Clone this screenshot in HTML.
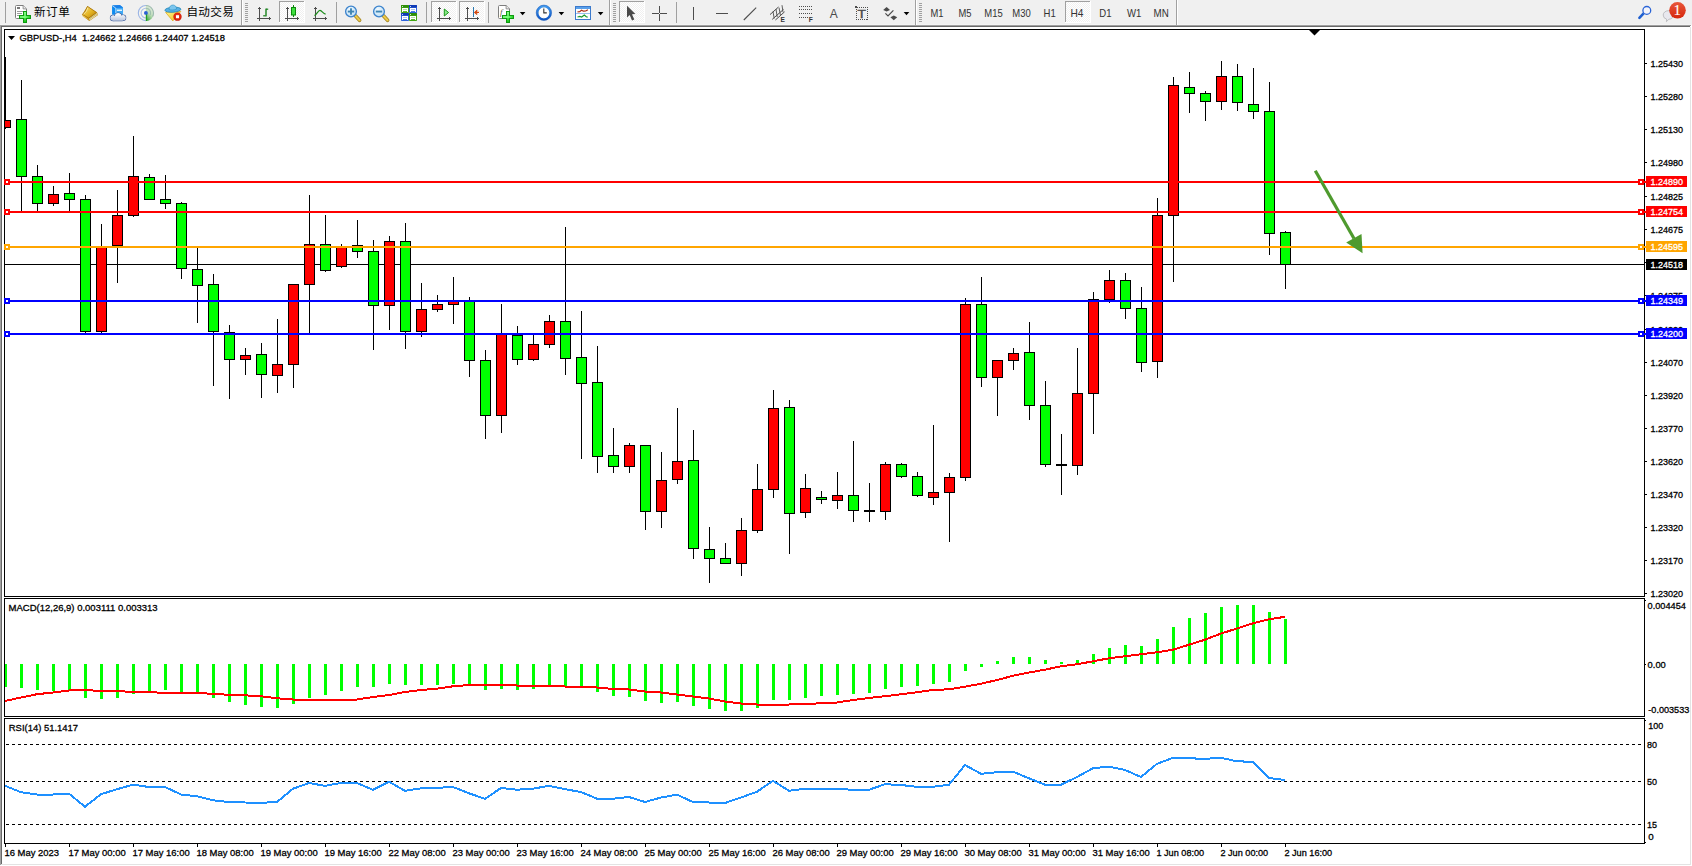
<!DOCTYPE html>
<html lang="zh-CN"><head><meta charset="utf-8"><title>GBPUSD-,H4</title>
<style>
html,body{margin:0;padding:0;background:#fff}
body{position:relative;width:1692px;height:866px;overflow:hidden;font-family:"Liberation Sans","Noto Sans CJK SC",sans-serif}
svg text{white-space:pre}
</style></head>
<body>
<svg id="chart" width="1692" height="866" viewBox="0 0 1692 866" style="position:absolute;left:0;top:0;font-family:'Liberation Sans',sans-serif;font-size:9.8px" shape-rendering="crispEdges">
<style>#chart text{stroke:#000;stroke-width:.3px}#chart text[fill="#fff"]{stroke:#fff}</style>
<defs><clipPath id="cm"><rect x="5" y="30" width="1639" height="566"/></clipPath><clipPath id="ci"><rect x="5" y="599" width="1639" height="117"/></clipPath><clipPath id="cr"><rect x="5" y="719" width="1639" height="124"/></clipPath></defs>
<rect x="0" y="27" width="1692" height="839" fill="#fff"/>
<rect x="0" y="25" width="1691" height="1" fill="#a0a0a0"/>
<rect x="0" y="26" width="1690" height="1" fill="#696969"/>
<rect x="0" y="25" width="1" height="840" fill="#a0a0a0"/>
<rect x="1" y="26" width="1" height="838" fill="#696969"/>
<rect x="1690" y="27" width="1" height="838" fill="#e3e3e3"/>
<rect x="1" y="864" width="1690" height="1" fill="#e3e3e3"/>
<g fill="none" stroke="#000" stroke-width="1">
<rect x="4.5" y="29.5" width="1640" height="567"/>
<rect x="4.5" y="598.5" width="1640" height="118"/>
<rect x="4.5" y="718.5" width="1640" height="125"/>
</g>
<g id="price" clip-path="url(#cm)">
<rect x="5" y="264" width="1639" height="1" fill="#000"/>
<g id="candles">
<rect x="5" y="57" width="1" height="72" fill="#000"/>
<rect x="0" y="120" width="11" height="8" fill="#000"/>
<rect x="1" y="121" width="9" height="6" fill="#f00"/>
<rect x="21" y="80" width="1" height="131" fill="#000"/>
<rect x="16" y="119" width="11" height="58" fill="#000"/>
<rect x="17" y="120" width="9" height="56" fill="#0f0"/>
<rect x="37" y="165" width="1" height="46" fill="#000"/>
<rect x="32" y="176" width="11" height="28" fill="#000"/>
<rect x="33" y="177" width="9" height="26" fill="#0f0"/>
<rect x="53" y="186" width="1" height="20" fill="#000"/>
<rect x="48" y="194" width="11" height="10" fill="#000"/>
<rect x="49" y="195" width="9" height="8" fill="#f00"/>
<rect x="69" y="173" width="1" height="38" fill="#000"/>
<rect x="64" y="193" width="11" height="7" fill="#000"/>
<rect x="65" y="194" width="9" height="5" fill="#0f0"/>
<rect x="85" y="195" width="1" height="138" fill="#000"/>
<rect x="80" y="199" width="11" height="133" fill="#000"/>
<rect x="81" y="200" width="9" height="131" fill="#0f0"/>
<rect x="101" y="224" width="1" height="109" fill="#000"/>
<rect x="96" y="246" width="11" height="86" fill="#000"/>
<rect x="97" y="247" width="9" height="84" fill="#f00"/>
<rect x="117" y="190" width="1" height="93" fill="#000"/>
<rect x="112" y="215" width="11" height="31" fill="#000"/>
<rect x="113" y="216" width="9" height="29" fill="#f00"/>
<rect x="133" y="136" width="1" height="81" fill="#000"/>
<rect x="128" y="176" width="11" height="40" fill="#000"/>
<rect x="129" y="177" width="9" height="38" fill="#f00"/>
<rect x="149" y="174" width="1" height="26" fill="#000"/>
<rect x="144" y="177" width="11" height="23" fill="#000"/>
<rect x="145" y="178" width="9" height="21" fill="#0f0"/>
<rect x="165" y="175" width="1" height="34" fill="#000"/>
<rect x="160" y="199" width="11" height="5" fill="#000"/>
<rect x="161" y="200" width="9" height="3" fill="#0f0"/>
<rect x="181" y="202" width="1" height="77" fill="#000"/>
<rect x="176" y="203" width="11" height="66" fill="#000"/>
<rect x="177" y="204" width="9" height="64" fill="#0f0"/>
<rect x="197" y="248" width="1" height="75" fill="#000"/>
<rect x="192" y="269" width="11" height="17" fill="#000"/>
<rect x="193" y="270" width="9" height="15" fill="#0f0"/>
<rect x="213" y="274" width="1" height="112" fill="#000"/>
<rect x="208" y="284" width="11" height="48" fill="#000"/>
<rect x="209" y="285" width="9" height="46" fill="#0f0"/>
<rect x="229" y="325" width="1" height="74" fill="#000"/>
<rect x="224" y="332" width="11" height="28" fill="#000"/>
<rect x="225" y="333" width="9" height="26" fill="#0f0"/>
<rect x="245" y="348" width="1" height="27" fill="#000"/>
<rect x="240" y="355" width="11" height="5" fill="#000"/>
<rect x="241" y="356" width="9" height="3" fill="#f00"/>
<rect x="261" y="343" width="1" height="55" fill="#000"/>
<rect x="256" y="354" width="11" height="21" fill="#000"/>
<rect x="257" y="355" width="9" height="19" fill="#0f0"/>
<rect x="277" y="319" width="1" height="74" fill="#000"/>
<rect x="272" y="364" width="11" height="12" fill="#000"/>
<rect x="273" y="365" width="9" height="10" fill="#f00"/>
<rect x="293" y="284" width="1" height="104" fill="#000"/>
<rect x="288" y="284" width="11" height="81" fill="#000"/>
<rect x="289" y="285" width="9" height="79" fill="#f00"/>
<rect x="309" y="195" width="1" height="138" fill="#000"/>
<rect x="304" y="244" width="11" height="41" fill="#000"/>
<rect x="305" y="245" width="9" height="39" fill="#f00"/>
<rect x="325" y="215" width="1" height="57" fill="#000"/>
<rect x="320" y="244" width="11" height="27" fill="#000"/>
<rect x="321" y="245" width="9" height="25" fill="#0f0"/>
<rect x="341" y="244" width="1" height="24" fill="#000"/>
<rect x="336" y="247" width="11" height="20" fill="#000"/>
<rect x="337" y="248" width="9" height="18" fill="#f00"/>
<rect x="357" y="220" width="1" height="38" fill="#000"/>
<rect x="352" y="245" width="11" height="7" fill="#000"/>
<rect x="353" y="246" width="9" height="5" fill="#0f0"/>
<rect x="373" y="240" width="1" height="110" fill="#000"/>
<rect x="368" y="251" width="11" height="55" fill="#000"/>
<rect x="369" y="252" width="9" height="53" fill="#0f0"/>
<rect x="389" y="236" width="1" height="94" fill="#000"/>
<rect x="384" y="241" width="11" height="65" fill="#000"/>
<rect x="385" y="242" width="9" height="63" fill="#f00"/>
<rect x="405" y="223" width="1" height="126" fill="#000"/>
<rect x="400" y="241" width="11" height="91" fill="#000"/>
<rect x="401" y="242" width="9" height="89" fill="#0f0"/>
<rect x="421" y="283" width="1" height="54" fill="#000"/>
<rect x="416" y="309" width="11" height="23" fill="#000"/>
<rect x="417" y="310" width="9" height="21" fill="#f00"/>
<rect x="437" y="295" width="1" height="17" fill="#000"/>
<rect x="432" y="304" width="11" height="6" fill="#000"/>
<rect x="433" y="305" width="9" height="4" fill="#f00"/>
<rect x="453" y="277" width="1" height="47" fill="#000"/>
<rect x="448" y="300" width="11" height="5" fill="#000"/>
<rect x="449" y="301" width="9" height="3" fill="#f00"/>
<rect x="469" y="297" width="1" height="80" fill="#000"/>
<rect x="464" y="300" width="11" height="61" fill="#000"/>
<rect x="465" y="301" width="9" height="59" fill="#0f0"/>
<rect x="485" y="350" width="1" height="89" fill="#000"/>
<rect x="480" y="360" width="11" height="56" fill="#000"/>
<rect x="481" y="361" width="9" height="54" fill="#0f0"/>
<rect x="501" y="304" width="1" height="129" fill="#000"/>
<rect x="496" y="334" width="11" height="82" fill="#000"/>
<rect x="497" y="335" width="9" height="80" fill="#f00"/>
<rect x="517" y="326" width="1" height="39" fill="#000"/>
<rect x="512" y="335" width="11" height="25" fill="#000"/>
<rect x="513" y="336" width="9" height="23" fill="#0f0"/>
<rect x="533" y="335" width="1" height="26" fill="#000"/>
<rect x="528" y="344" width="11" height="16" fill="#000"/>
<rect x="529" y="345" width="9" height="14" fill="#f00"/>
<rect x="549" y="315" width="1" height="33" fill="#000"/>
<rect x="544" y="321" width="11" height="24" fill="#000"/>
<rect x="545" y="322" width="9" height="22" fill="#f00"/>
<rect x="565" y="227" width="1" height="148" fill="#000"/>
<rect x="560" y="321" width="11" height="38" fill="#000"/>
<rect x="561" y="322" width="9" height="36" fill="#0f0"/>
<rect x="581" y="311" width="1" height="148" fill="#000"/>
<rect x="576" y="357" width="11" height="27" fill="#000"/>
<rect x="577" y="358" width="9" height="25" fill="#0f0"/>
<rect x="597" y="346" width="1" height="127" fill="#000"/>
<rect x="592" y="382" width="11" height="75" fill="#000"/>
<rect x="593" y="383" width="9" height="73" fill="#0f0"/>
<rect x="613" y="428" width="1" height="45" fill="#000"/>
<rect x="608" y="455" width="11" height="12" fill="#000"/>
<rect x="609" y="456" width="9" height="10" fill="#0f0"/>
<rect x="629" y="443" width="1" height="30" fill="#000"/>
<rect x="624" y="445" width="11" height="22" fill="#000"/>
<rect x="625" y="446" width="9" height="20" fill="#f00"/>
<rect x="645" y="445" width="1" height="85" fill="#000"/>
<rect x="640" y="445" width="11" height="67" fill="#000"/>
<rect x="641" y="446" width="9" height="65" fill="#0f0"/>
<rect x="661" y="452" width="1" height="76" fill="#000"/>
<rect x="656" y="480" width="11" height="32" fill="#000"/>
<rect x="657" y="481" width="9" height="30" fill="#f00"/>
<rect x="677" y="408" width="1" height="76" fill="#000"/>
<rect x="672" y="461" width="11" height="19" fill="#000"/>
<rect x="673" y="462" width="9" height="17" fill="#f00"/>
<rect x="693" y="430" width="1" height="129" fill="#000"/>
<rect x="688" y="460" width="11" height="89" fill="#000"/>
<rect x="689" y="461" width="9" height="87" fill="#0f0"/>
<rect x="709" y="527" width="1" height="56" fill="#000"/>
<rect x="704" y="549" width="11" height="10" fill="#000"/>
<rect x="705" y="550" width="9" height="8" fill="#0f0"/>
<rect x="725" y="543" width="1" height="21" fill="#000"/>
<rect x="720" y="558" width="11" height="6" fill="#000"/>
<rect x="721" y="559" width="9" height="4" fill="#0f0"/>
<rect x="741" y="518" width="1" height="58" fill="#000"/>
<rect x="736" y="530" width="11" height="34" fill="#000"/>
<rect x="737" y="531" width="9" height="32" fill="#f00"/>
<rect x="757" y="464" width="1" height="69" fill="#000"/>
<rect x="752" y="489" width="11" height="42" fill="#000"/>
<rect x="753" y="490" width="9" height="40" fill="#f00"/>
<rect x="773" y="390" width="1" height="108" fill="#000"/>
<rect x="768" y="408" width="11" height="82" fill="#000"/>
<rect x="769" y="409" width="9" height="80" fill="#f00"/>
<rect x="789" y="400" width="1" height="154" fill="#000"/>
<rect x="784" y="407" width="11" height="107" fill="#000"/>
<rect x="785" y="408" width="9" height="105" fill="#0f0"/>
<rect x="805" y="474" width="1" height="44" fill="#000"/>
<rect x="800" y="488" width="11" height="25" fill="#000"/>
<rect x="801" y="489" width="9" height="23" fill="#f00"/>
<rect x="821" y="491" width="1" height="13" fill="#000"/>
<rect x="816" y="497" width="11" height="3" fill="#000"/>
<rect x="817" y="498" width="9" height="1" fill="#0f0"/>
<rect x="837" y="472" width="1" height="37" fill="#000"/>
<rect x="832" y="495" width="11" height="6" fill="#000"/>
<rect x="833" y="496" width="9" height="4" fill="#f00"/>
<rect x="853" y="441" width="1" height="81" fill="#000"/>
<rect x="848" y="495" width="11" height="16" fill="#000"/>
<rect x="849" y="496" width="9" height="14" fill="#0f0"/>
<rect x="869" y="483" width="1" height="39" fill="#000"/>
<rect x="864" y="510" width="11" height="2" fill="#000"/>
<rect x="885" y="462" width="1" height="58" fill="#000"/>
<rect x="880" y="464" width="11" height="48" fill="#000"/>
<rect x="881" y="465" width="9" height="46" fill="#f00"/>
<rect x="901" y="463" width="1" height="15" fill="#000"/>
<rect x="896" y="464" width="11" height="13" fill="#000"/>
<rect x="897" y="465" width="9" height="11" fill="#0f0"/>
<rect x="917" y="472" width="1" height="25" fill="#000"/>
<rect x="912" y="476" width="11" height="20" fill="#000"/>
<rect x="913" y="477" width="9" height="18" fill="#0f0"/>
<rect x="933" y="425" width="1" height="80" fill="#000"/>
<rect x="928" y="492" width="11" height="6" fill="#000"/>
<rect x="929" y="493" width="9" height="4" fill="#f00"/>
<rect x="949" y="473" width="1" height="69" fill="#000"/>
<rect x="944" y="477" width="11" height="16" fill="#000"/>
<rect x="945" y="478" width="9" height="14" fill="#f00"/>
<rect x="965" y="298" width="1" height="183" fill="#000"/>
<rect x="960" y="304" width="11" height="174" fill="#000"/>
<rect x="961" y="305" width="9" height="172" fill="#f00"/>
<rect x="981" y="277" width="1" height="110" fill="#000"/>
<rect x="976" y="304" width="11" height="74" fill="#000"/>
<rect x="977" y="305" width="9" height="72" fill="#0f0"/>
<rect x="997" y="360" width="1" height="56" fill="#000"/>
<rect x="992" y="360" width="11" height="18" fill="#000"/>
<rect x="993" y="361" width="9" height="16" fill="#f00"/>
<rect x="1013" y="348" width="1" height="22" fill="#000"/>
<rect x="1008" y="353" width="11" height="8" fill="#000"/>
<rect x="1009" y="354" width="9" height="6" fill="#f00"/>
<rect x="1029" y="322" width="1" height="98" fill="#000"/>
<rect x="1024" y="352" width="11" height="54" fill="#000"/>
<rect x="1025" y="353" width="9" height="52" fill="#0f0"/>
<rect x="1045" y="381" width="1" height="86" fill="#000"/>
<rect x="1040" y="405" width="11" height="60" fill="#000"/>
<rect x="1041" y="406" width="9" height="58" fill="#0f0"/>
<rect x="1061" y="434" width="1" height="61" fill="#000"/>
<rect x="1056" y="464" width="11" height="2" fill="#000"/>
<rect x="1077" y="348" width="1" height="127" fill="#000"/>
<rect x="1072" y="393" width="11" height="73" fill="#000"/>
<rect x="1073" y="394" width="9" height="71" fill="#f00"/>
<rect x="1093" y="292" width="1" height="142" fill="#000"/>
<rect x="1088" y="299" width="11" height="95" fill="#000"/>
<rect x="1089" y="300" width="9" height="93" fill="#f00"/>
<rect x="1109" y="270" width="1" height="33" fill="#000"/>
<rect x="1104" y="280" width="11" height="20" fill="#000"/>
<rect x="1105" y="281" width="9" height="18" fill="#f00"/>
<rect x="1125" y="273" width="1" height="46" fill="#000"/>
<rect x="1120" y="280" width="11" height="29" fill="#000"/>
<rect x="1121" y="281" width="9" height="27" fill="#0f0"/>
<rect x="1141" y="287" width="1" height="85" fill="#000"/>
<rect x="1136" y="308" width="11" height="55" fill="#000"/>
<rect x="1137" y="309" width="9" height="53" fill="#0f0"/>
<rect x="1157" y="198" width="1" height="180" fill="#000"/>
<rect x="1152" y="215" width="11" height="147" fill="#000"/>
<rect x="1153" y="216" width="9" height="145" fill="#f00"/>
<rect x="1173" y="77" width="1" height="205" fill="#000"/>
<rect x="1168" y="85" width="11" height="131" fill="#000"/>
<rect x="1169" y="86" width="9" height="129" fill="#f00"/>
<rect x="1189" y="72" width="1" height="41" fill="#000"/>
<rect x="1184" y="87" width="11" height="7" fill="#000"/>
<rect x="1185" y="88" width="9" height="5" fill="#0f0"/>
<rect x="1205" y="91" width="1" height="30" fill="#000"/>
<rect x="1200" y="93" width="11" height="9" fill="#000"/>
<rect x="1201" y="94" width="9" height="7" fill="#0f0"/>
<rect x="1221" y="61" width="1" height="49" fill="#000"/>
<rect x="1216" y="76" width="11" height="26" fill="#000"/>
<rect x="1217" y="77" width="9" height="24" fill="#f00"/>
<rect x="1237" y="64" width="1" height="47" fill="#000"/>
<rect x="1232" y="76" width="11" height="27" fill="#000"/>
<rect x="1233" y="77" width="9" height="25" fill="#0f0"/>
<rect x="1253" y="68" width="1" height="51" fill="#000"/>
<rect x="1248" y="104" width="11" height="8" fill="#000"/>
<rect x="1249" y="105" width="9" height="6" fill="#0f0"/>
<rect x="1269" y="82" width="1" height="173" fill="#000"/>
<rect x="1264" y="111" width="11" height="123" fill="#000"/>
<rect x="1265" y="112" width="9" height="121" fill="#0f0"/>
<rect x="1285" y="231" width="1" height="58" fill="#000"/>
<rect x="1280" y="232" width="11" height="33" fill="#000"/>
<rect x="1281" y="233" width="9" height="31" fill="#0f0"/>
</g>
</g>
<g id="yaxis">
<rect x="1645" y="63" width="2" height="1" fill="#000"/>
<text x="1650.5" y="66.7" textLength="32.6" lengthAdjust="spacingAndGlyphs">1.25430</text>
<rect x="1645" y="96" width="2" height="1" fill="#000"/>
<text x="1650.5" y="99.7" textLength="32.6" lengthAdjust="spacingAndGlyphs">1.25280</text>
<rect x="1645" y="129" width="2" height="1" fill="#000"/>
<text x="1650.5" y="132.7" textLength="32.6" lengthAdjust="spacingAndGlyphs">1.25130</text>
<rect x="1645" y="162" width="2" height="1" fill="#000"/>
<text x="1650.5" y="165.7" textLength="32.6" lengthAdjust="spacingAndGlyphs">1.24980</text>
<rect x="1645" y="196" width="2" height="1" fill="#000"/>
<text x="1650.5" y="199.7" textLength="32.6" lengthAdjust="spacingAndGlyphs">1.24825</text>
<rect x="1645" y="229" width="2" height="1" fill="#000"/>
<text x="1650.5" y="232.7" textLength="32.6" lengthAdjust="spacingAndGlyphs">1.24675</text>
<rect x="1645" y="262" width="2" height="1" fill="#000"/>
<rect x="1645" y="295" width="2" height="1" fill="#000"/>
<text x="1650.5" y="298.7" textLength="32.6" lengthAdjust="spacingAndGlyphs">1.24375</text>
<rect x="1645" y="329" width="2" height="1" fill="#000"/>
<text x="1650.5" y="332.7" textLength="32.6" lengthAdjust="spacingAndGlyphs">1.24220</text>
<rect x="1645" y="362" width="2" height="1" fill="#000"/>
<text x="1650.5" y="365.7" textLength="32.6" lengthAdjust="spacingAndGlyphs">1.24070</text>
<rect x="1645" y="395" width="2" height="1" fill="#000"/>
<text x="1650.5" y="398.7" textLength="32.6" lengthAdjust="spacingAndGlyphs">1.23920</text>
<rect x="1645" y="428" width="2" height="1" fill="#000"/>
<text x="1650.5" y="431.7" textLength="32.6" lengthAdjust="spacingAndGlyphs">1.23770</text>
<rect x="1645" y="461" width="2" height="1" fill="#000"/>
<text x="1650.5" y="464.7" textLength="32.6" lengthAdjust="spacingAndGlyphs">1.23620</text>
<rect x="1645" y="494" width="2" height="1" fill="#000"/>
<text x="1650.5" y="497.7" textLength="32.6" lengthAdjust="spacingAndGlyphs">1.23470</text>
<rect x="1645" y="527" width="2" height="1" fill="#000"/>
<text x="1650.5" y="530.7" textLength="32.6" lengthAdjust="spacingAndGlyphs">1.23320</text>
<rect x="1645" y="560" width="2" height="1" fill="#000"/>
<text x="1650.5" y="563.7" textLength="32.6" lengthAdjust="spacingAndGlyphs">1.23170</text>
<rect x="1645" y="593" width="2" height="1" fill="#000"/>
<text x="1650.5" y="596.7" textLength="32.6" lengthAdjust="spacingAndGlyphs">1.23020</text>
</g>
<g id="hlines">
<rect x="5" y="181" width="1641" height="2" fill="#f00"/>
<rect x="4" y="179" width="6" height="6" fill="#f00"/>
<rect x="6" y="181" width="2" height="2" fill="#fff"/>
<rect x="1638" y="179" width="6" height="6" fill="#f00"/>
<rect x="1640" y="181" width="2" height="2" fill="#fff"/>
<rect x="1646" y="176" width="41" height="11" fill="#f00"/>
<text x="1650.5" y="184.7" textLength="32.6" lengthAdjust="spacingAndGlyphs" fill="#fff" stroke="#fff">1.24890</text>
<rect x="5" y="211" width="1641" height="2" fill="#f00"/>
<rect x="4" y="209" width="6" height="6" fill="#f00"/>
<rect x="6" y="211" width="2" height="2" fill="#fff"/>
<rect x="1638" y="209" width="6" height="6" fill="#f00"/>
<rect x="1640" y="211" width="2" height="2" fill="#fff"/>
<rect x="1646" y="206" width="41" height="11" fill="#f00"/>
<text x="1650.5" y="214.7" textLength="32.6" lengthAdjust="spacingAndGlyphs" fill="#fff" stroke="#fff">1.24754</text>
<rect x="5" y="246" width="1641" height="2" fill="#ffa500"/>
<rect x="4" y="244" width="6" height="6" fill="#ffa500"/>
<rect x="6" y="246" width="2" height="2" fill="#fff"/>
<rect x="1638" y="244" width="6" height="6" fill="#ffa500"/>
<rect x="1640" y="246" width="2" height="2" fill="#fff"/>
<rect x="1646" y="241" width="41" height="11" fill="#ffa500"/>
<text x="1650.5" y="249.7" textLength="32.6" lengthAdjust="spacingAndGlyphs" fill="#fff" stroke="#fff">1.24595</text>
<rect x="5" y="300" width="1641" height="2" fill="#00f"/>
<rect x="4" y="298" width="6" height="6" fill="#00f"/>
<rect x="6" y="300" width="2" height="2" fill="#fff"/>
<rect x="1638" y="298" width="6" height="6" fill="#00f"/>
<rect x="1640" y="300" width="2" height="2" fill="#fff"/>
<rect x="1646" y="295" width="41" height="11" fill="#00f"/>
<text x="1650.5" y="303.7" textLength="32.6" lengthAdjust="spacingAndGlyphs" fill="#fff" stroke="#fff">1.24349</text>
<rect x="5" y="333" width="1641" height="2" fill="#00f"/>
<rect x="4" y="331" width="6" height="6" fill="#00f"/>
<rect x="6" y="333" width="2" height="2" fill="#fff"/>
<rect x="1638" y="331" width="6" height="6" fill="#00f"/>
<rect x="1640" y="333" width="2" height="2" fill="#fff"/>
<rect x="1646" y="328" width="41" height="11" fill="#00f"/>
<text x="1650.5" y="336.7" textLength="32.6" lengthAdjust="spacingAndGlyphs" fill="#fff" stroke="#fff">1.24200</text>
<rect x="1646" y="259" width="41" height="11" fill="#000"/>
<text x="1650.5" y="267.7" textLength="32.6" lengthAdjust="spacingAndGlyphs" fill="#fff" stroke="#fff">1.24518</text>
</g>
<g id="arrow" shape-rendering="geometricPrecision" fill="#4e9a2e" stroke="none">
<line x1="1315.3" y1="170.8" x2="1354" y2="238.5" stroke="#4e9a2e" stroke-width="3.2"/>
<polygon points="1346.2,242.5 1361.5,234 1362.6,253.2"/>
</g>
<polygon points="1309,30 1320,30 1314.5,35.5" fill="#000" shape-rendering="geometricPrecision"/>
<polygon points="8,36 15,36 11.5,40" fill="#000" shape-rendering="geometricPrecision"/>
<text x="19.5" y="41" textLength="205.5" lengthAdjust="spacingAndGlyphs">GBPUSD-,H4&#160; 1.24662 1.24666 1.24407 1.24518</text>
<g id="macd" clip-path="url(#ci)">
<g fill="#0f0">
<rect x="4" y="664" width="3" height="23"/>
<rect x="20" y="664" width="3" height="24"/>
<rect x="36" y="664" width="3" height="26"/>
<rect x="52" y="664" width="3" height="27"/>
<rect x="68" y="664" width="3" height="26"/>
<rect x="84" y="664" width="3" height="34"/>
<rect x="100" y="664" width="3" height="35"/>
<rect x="116" y="664" width="3" height="34"/>
<rect x="132" y="664" width="3" height="30"/>
<rect x="148" y="664" width="3" height="28"/>
<rect x="164" y="664" width="3" height="26"/>
<rect x="180" y="664" width="3" height="28"/>
<rect x="196" y="664" width="3" height="29"/>
<rect x="212" y="664" width="3" height="34"/>
<rect x="228" y="664" width="3" height="38"/>
<rect x="244" y="664" width="3" height="41"/>
<rect x="260" y="664" width="3" height="43"/>
<rect x="276" y="664" width="3" height="44"/>
<rect x="292" y="664" width="3" height="40"/>
<rect x="308" y="664" width="3" height="34"/>
<rect x="324" y="664" width="3" height="31"/>
<rect x="340" y="664" width="3" height="27"/>
<rect x="356" y="664" width="3" height="23"/>
<rect x="372" y="664" width="3" height="23"/>
<rect x="388" y="664" width="3" height="20"/>
<rect x="404" y="664" width="3" height="21"/>
<rect x="420" y="664" width="3" height="21"/>
<rect x="436" y="664" width="3" height="21"/>
<rect x="452" y="664" width="3" height="20"/>
<rect x="468" y="664" width="3" height="21"/>
<rect x="484" y="664" width="3" height="26"/>
<rect x="500" y="664" width="3" height="25"/>
<rect x="516" y="664" width="3" height="26"/>
<rect x="532" y="664" width="3" height="25"/>
<rect x="548" y="664" width="3" height="22"/>
<rect x="564" y="664" width="3" height="22"/>
<rect x="580" y="664" width="3" height="23"/>
<rect x="596" y="664" width="3" height="28"/>
<rect x="612" y="664" width="3" height="32"/>
<rect x="628" y="664" width="3" height="33"/>
<rect x="644" y="664" width="3" height="37"/>
<rect x="660" y="664" width="3" height="39"/>
<rect x="676" y="664" width="3" height="38"/>
<rect x="692" y="664" width="3" height="42"/>
<rect x="708" y="664" width="3" height="45"/>
<rect x="724" y="664" width="3" height="47"/>
<rect x="740" y="664" width="3" height="47"/>
<rect x="756" y="664" width="3" height="44"/>
<rect x="772" y="664" width="3" height="36"/>
<rect x="788" y="664" width="3" height="36"/>
<rect x="804" y="664" width="3" height="34"/>
<rect x="820" y="664" width="3" height="32"/>
<rect x="836" y="664" width="3" height="31"/>
<rect x="852" y="664" width="3" height="30"/>
<rect x="868" y="664" width="3" height="29"/>
<rect x="884" y="664" width="3" height="25"/>
<rect x="900" y="664" width="3" height="23"/>
<rect x="916" y="664" width="3" height="22"/>
<rect x="932" y="664" width="3" height="20"/>
<rect x="948" y="664" width="3" height="18"/>
<rect x="964" y="664" width="3" height="7"/>
<rect x="980" y="664" width="3" height="3"/>
<rect x="996" y="661" width="3" height="3"/>
<rect x="1012" y="657" width="3" height="7"/>
<rect x="1028" y="657" width="3" height="7"/>
<rect x="1044" y="660" width="3" height="4"/>
<rect x="1060" y="662" width="3" height="2"/>
<rect x="1076" y="660" width="3" height="4"/>
<rect x="1092" y="654" width="3" height="10"/>
<rect x="1108" y="648" width="3" height="16"/>
<rect x="1124" y="645" width="3" height="19"/>
<rect x="1140" y="646" width="3" height="18"/>
<rect x="1156" y="639" width="3" height="25"/>
<rect x="1172" y="627" width="3" height="37"/>
<rect x="1188" y="618" width="3" height="46"/>
<rect x="1204" y="613" width="3" height="51"/>
<rect x="1220" y="607" width="3" height="57"/>
<rect x="1236" y="605" width="3" height="59"/>
<rect x="1252" y="605" width="3" height="59"/>
<rect x="1268" y="612" width="3" height="52"/>
<rect x="1284" y="619" width="3" height="45"/>
</g>
<polyline points="5,701 21,697.5 37,694.2 53,692.5 69,690.5 85,690 101,691 117,691 133,692 149,692 165,693 181,693 197,693 213,693.8 229,694.8 245,695.3 261,696.3 277,698.3 293,699.5 309,700 325,700 341,700 357,699.5 373,697 389,695 405,692 421,690 437,688.7 453,686.3 469,685 485,685 501,685 517,685.5 533,686 549,686 565,686.5 581,687 597,687.5 613,689 629,689.5 645,691.5 661,692.5 677,694.5 693,696.5 709,698.5 725,701.5 741,703.5 757,704.5 773,705 789,704.5 805,704 821,703.3 837,702.5 853,700 869,698 885,696.2 901,694.2 917,692.2 933,690 949,689.3 965,686.7 981,683.7 997,680 1013,675.8 1029,672.5 1045,669.7 1061,666.3 1077,664.3 1093,661.3 1109,658.3 1125,656.3 1141,654.3 1157,652.3 1173,649.7 1189,644.7 1205,639.7 1221,633.5 1237,628.5 1253,623.3 1269,619.3 1285,616.8" fill="none" stroke="#f00" stroke-width="2" stroke-linejoin="round"/>
</g>
<text x="8.6" y="611" textLength="149" lengthAdjust="spacingAndGlyphs">MACD(12,26,9) 0.003111 0.003313</text>
<rect x="1645" y="600" width="1" height="1" fill="#000"/>
<text x="1647.6" y="609" textLength="38.3" lengthAdjust="spacingAndGlyphs">0.004454</text>
<rect x="1645" y="664" width="1" height="1" fill="#000"/>
<text x="1647.6" y="668" textLength="18.2" lengthAdjust="spacingAndGlyphs">0.00</text>
<text x="1648.3" y="713" textLength="41" lengthAdjust="spacingAndGlyphs">-0.003533</text>
<g id="rsi" clip-path="url(#cr)">
<line x1="6" y1="744.5" x2="1644" y2="744.5" stroke="#000" stroke-width="1" stroke-dasharray="3 3"/>
<line x1="6" y1="781.5" x2="1644" y2="781.5" stroke="#000" stroke-width="1" stroke-dasharray="3 3"/>
<line x1="6" y1="824.5" x2="1644" y2="824.5" stroke="#000" stroke-width="1" stroke-dasharray="3 3"/>
<polyline points="5,785.8 21,792.2 37,794.5 53,794.5 69,793.7 85,806.7 101,794.2 117,789.2 133,784.7 149,787 165,787 181,794.5 197,796.2 213,800.3 229,802 245,802.5 261,802.8 277,802 293,788.7 309,783 325,785.8 341,783 357,783 373,789.8 389,781.7 405,790.8 421,788.3 437,787.8 453,787 469,793.3 485,798.8 501,788 517,789.7 533,788.7 549,785.8 565,789.2 581,792 597,798.7 613,798.7 629,797 645,802 661,797.5 677,794.7 693,802 709,802.5 725,803 741,797.5 757,791.7 773,780.8 789,790.8 805,788.8 821,788.8 837,788.8 853,789.8 869,789.8 885,784.2 901,785 917,786.8 933,786.8 949,784.7 965,765 981,773.8 997,772.2 1013,771.7 1029,778.3 1045,784.7 1061,784.7 1077,777 1093,768.2 1109,766.7 1125,770 1141,777 1157,763.8 1173,757.8 1189,758.3 1205,758.8 1221,757.8 1237,761.3 1253,761.8 1269,778 1285,780" fill="none" stroke="#1e90ff" stroke-width="2" stroke-linejoin="round"/>
</g>
<text x="8.8" y="731" textLength="69.2" lengthAdjust="spacingAndGlyphs">RSI(14) 51.1417</text>
<rect x="1645" y="720" width="1" height="1" fill="#000"/>
<rect x="1645" y="842" width="1" height="1" fill="#000"/>
<text x="1648.3" y="729" textLength="15" lengthAdjust="spacingAndGlyphs">100</text>
<text x="1646.9" y="748" textLength="10" lengthAdjust="spacingAndGlyphs">80</text>
<text x="1646.9" y="785" textLength="10" lengthAdjust="spacingAndGlyphs">50</text>
<text x="1646.9" y="828" textLength="10" lengthAdjust="spacingAndGlyphs">15</text>
<text x="1648.3" y="840">0</text>
<g id="xaxis">
<rect x="5" y="844" width="1" height="3" fill="#000"/>
<text x="4.4" y="855.7" textLength="54.6" lengthAdjust="spacingAndGlyphs">16 May 2023</text>
<rect x="69" y="844" width="1" height="3" fill="#000"/>
<text x="68.4" y="855.7" textLength="57.3" lengthAdjust="spacingAndGlyphs">17 May 00:00</text>
<rect x="133" y="844" width="1" height="3" fill="#000"/>
<text x="132.4" y="855.7" textLength="57.3" lengthAdjust="spacingAndGlyphs">17 May 16:00</text>
<rect x="197" y="844" width="1" height="3" fill="#000"/>
<text x="196.4" y="855.7" textLength="57.3" lengthAdjust="spacingAndGlyphs">18 May 08:00</text>
<rect x="261" y="844" width="1" height="3" fill="#000"/>
<text x="260.4" y="855.7" textLength="57.3" lengthAdjust="spacingAndGlyphs">19 May 00:00</text>
<rect x="325" y="844" width="1" height="3" fill="#000"/>
<text x="324.4" y="855.7" textLength="57.3" lengthAdjust="spacingAndGlyphs">19 May 16:00</text>
<rect x="389" y="844" width="1" height="3" fill="#000"/>
<text x="388.4" y="855.7" textLength="57.3" lengthAdjust="spacingAndGlyphs">22 May 08:00</text>
<rect x="453" y="844" width="1" height="3" fill="#000"/>
<text x="452.4" y="855.7" textLength="57.3" lengthAdjust="spacingAndGlyphs">23 May 00:00</text>
<rect x="517" y="844" width="1" height="3" fill="#000"/>
<text x="516.4" y="855.7" textLength="57.3" lengthAdjust="spacingAndGlyphs">23 May 16:00</text>
<rect x="581" y="844" width="1" height="3" fill="#000"/>
<text x="580.4" y="855.7" textLength="57.3" lengthAdjust="spacingAndGlyphs">24 May 08:00</text>
<rect x="645" y="844" width="1" height="3" fill="#000"/>
<text x="644.4" y="855.7" textLength="57.3" lengthAdjust="spacingAndGlyphs">25 May 00:00</text>
<rect x="709" y="844" width="1" height="3" fill="#000"/>
<text x="708.4" y="855.7" textLength="57.3" lengthAdjust="spacingAndGlyphs">25 May 16:00</text>
<rect x="773" y="844" width="1" height="3" fill="#000"/>
<text x="772.4" y="855.7" textLength="57.3" lengthAdjust="spacingAndGlyphs">26 May 08:00</text>
<rect x="837" y="844" width="1" height="3" fill="#000"/>
<text x="836.4" y="855.7" textLength="57.3" lengthAdjust="spacingAndGlyphs">29 May 00:00</text>
<rect x="901" y="844" width="1" height="3" fill="#000"/>
<text x="900.4" y="855.7" textLength="57.3" lengthAdjust="spacingAndGlyphs">29 May 16:00</text>
<rect x="965" y="844" width="1" height="3" fill="#000"/>
<text x="964.4" y="855.7" textLength="57.3" lengthAdjust="spacingAndGlyphs">30 May 08:00</text>
<rect x="1029" y="844" width="1" height="3" fill="#000"/>
<text x="1028.4" y="855.7" textLength="57.3" lengthAdjust="spacingAndGlyphs">31 May 00:00</text>
<rect x="1093" y="844" width="1" height="3" fill="#000"/>
<text x="1092.4" y="855.7" textLength="57.3" lengthAdjust="spacingAndGlyphs">31 May 16:00</text>
<rect x="1157" y="844" width="1" height="3" fill="#000"/>
<text x="1156.4" y="855.7" textLength="47.8" lengthAdjust="spacingAndGlyphs">1 Jun 08:00</text>
<rect x="1221" y="844" width="1" height="3" fill="#000"/>
<text x="1220.4" y="855.7" textLength="47.8" lengthAdjust="spacingAndGlyphs">2 Jun 00:00</text>
<rect x="1285" y="844" width="1" height="3" fill="#000"/>
<text x="1284.4" y="855.7" textLength="47.8" lengthAdjust="spacingAndGlyphs">2 Jun 16:00</text>
</g>
</svg>
<div id="toolbar" style="position:absolute;left:0;top:0;width:1692px;height:25px;background:#f0f0f0">
<svg width="1692" height="25" viewBox="0 0 1692 25" style="position:absolute;left:0;top:0;font-family:'Liberation Sans','Noto Sans CJK SC',sans-serif">
<defs><pattern id="chk" width="2" height="2" patternUnits="userSpaceOnUse"><rect width="2" height="2" fill="#fff"/><rect width="1" height="1" fill="#f0f0f0"/><rect x="1" y="1" width="1" height="1" fill="#f0f0f0"/></pattern><linearGradient id="gp" x1="0" y1="0" x2="0" y2="1"><stop offset="0" stop-color="#8cff8c"/><stop offset="1" stop-color="#18c818"/></linearGradient><linearGradient id="gp2" x1="0" y1="0" x2="1" y2="0"><stop offset="0" stop-color="#6cf46c"/><stop offset=".5" stop-color="#7cff7c"/><stop offset="1" stop-color="#22d022"/></linearGradient><linearGradient id="gold" x1="0" y1="0" x2="1" y2="1"><stop offset="0" stop-color="#f8e07a"/><stop offset=".55" stop-color="#e3b322"/><stop offset="1" stop-color="#b07a08"/></linearGradient><linearGradient id="blu" x1="0" y1="0" x2="0" y2="1"><stop offset="0" stop-color="#5db4f2"/><stop offset="1" stop-color="#1c6fd6"/></linearGradient><linearGradient id="redb" x1="0" y1="0" x2="0" y2="1"><stop offset="0" stop-color="#e9573a"/><stop offset="1" stop-color="#d5260c"/></linearGradient><radialGradient id="lens" cx=".4" cy=".35" r=".7"><stop offset="0" stop-color="#f2faff"/><stop offset="1" stop-color="#b9dcf5"/></radialGradient><linearGradient id="gold2" x1="0" y1="0" x2="1" y2="1"><stop offset="0" stop-color="#f9dc78"/><stop offset="1" stop-color="#c48c0e"/></linearGradient><linearGradient id="cl" x1="0" y1="0" x2="0" y2="1"><stop offset="0" stop-color="#ffffff"/><stop offset="1" stop-color="#bfc9de"/></linearGradient><linearGradient id="sg" x1=".7" y1="0" x2=".2" y2="1"><stop offset="0" stop-color="#7fc07f" stop-opacity=".12"/><stop offset=".5" stop-color="#6fba6f" stop-opacity=".4"/><stop offset="1" stop-color="#2ea02e" stop-opacity=".95"/></linearGradient><linearGradient id="yel" x1="0" y1="0" x2="1" y2="1"><stop offset="0" stop-color="#fff78a"/><stop offset="1" stop-color="#f0bb18"/></linearGradient><radialGradient id="stop" cx=".5" cy=".45" r=".6"><stop offset="0" stop-color="#ff4a28"/><stop offset="1" stop-color="#c41200"/></radialGradient><clipPath id="clc"><circle cx="113.1" cy="17.9" r="2.5"/><circle cx="118.2" cy="16.5" r="3.2"/><circle cx="123" cy="17.8" r="2.5"/><rect x="113.1" y="17.4" width="9.9" height="3" rx=".6"/></clipPath><linearGradient id="cl2" x1="0" y1="13.5" x2="0" y2="20.6" gradientUnits="userSpaceOnUse"><stop offset="0" stop-color="#fff"/><stop offset="1" stop-color="#bcc6dc"/></linearGradient><linearGradient id="blu2" x1="0" y1="0" x2="0" y2="1"><stop offset="0" stop-color="#3f98ee"/><stop offset="1" stop-color="#0f55c4"/></linearGradient></defs>
<rect x="0" y="24" width="1692" height="1" fill="#f4f4f4"/>
<g shape-rendering="crispEdges">
<rect x="5" y="2" width="1" height="21" fill="#a0a0a0"/>
<rect x="241" y="0" width="1" height="25" fill="#a0a0a0"/><rect x="242" y="0" width="1" height="25" fill="#fff"/>
<rect x="245" y="3" width="3" height="1" fill="#a0a0a0"/><rect x="245" y="5" width="3" height="1" fill="#a0a0a0"/><rect x="245" y="7" width="3" height="1" fill="#a0a0a0"/><rect x="245" y="9" width="3" height="1" fill="#a0a0a0"/><rect x="245" y="11" width="3" height="1" fill="#a0a0a0"/><rect x="245" y="13" width="3" height="1" fill="#a0a0a0"/><rect x="245" y="15" width="3" height="1" fill="#a0a0a0"/><rect x="245" y="17" width="3" height="1" fill="#a0a0a0"/><rect x="245" y="19" width="3" height="1" fill="#a0a0a0"/><rect x="245" y="21" width="3" height="1" fill="#a0a0a0"/>
<rect x="336" y="2" width="1" height="21" fill="#a0a0a0"/>
<rect x="426" y="2" width="1" height="21" fill="#a0a0a0"/>
<rect x="488" y="2" width="1" height="21" fill="#a0a0a0"/>
<rect x="609" y="0" width="1" height="25" fill="#a0a0a0"/><rect x="610" y="0" width="1" height="25" fill="#fff"/>
<rect x="613" y="3" width="3" height="1" fill="#a0a0a0"/><rect x="613" y="5" width="3" height="1" fill="#a0a0a0"/><rect x="613" y="7" width="3" height="1" fill="#a0a0a0"/><rect x="613" y="9" width="3" height="1" fill="#a0a0a0"/><rect x="613" y="11" width="3" height="1" fill="#a0a0a0"/><rect x="613" y="13" width="3" height="1" fill="#a0a0a0"/><rect x="613" y="15" width="3" height="1" fill="#a0a0a0"/><rect x="613" y="17" width="3" height="1" fill="#a0a0a0"/><rect x="613" y="19" width="3" height="1" fill="#a0a0a0"/><rect x="613" y="21" width="3" height="1" fill="#a0a0a0"/>
<rect x="676" y="2" width="1" height="21" fill="#a0a0a0"/>
<rect x="915" y="0" width="1" height="25" fill="#a0a0a0"/><rect x="916" y="0" width="1" height="25" fill="#fff"/>
<rect x="919" y="3" width="3" height="1" fill="#a0a0a0"/><rect x="919" y="5" width="3" height="1" fill="#a0a0a0"/><rect x="919" y="7" width="3" height="1" fill="#a0a0a0"/><rect x="919" y="9" width="3" height="1" fill="#a0a0a0"/><rect x="919" y="11" width="3" height="1" fill="#a0a0a0"/><rect x="919" y="13" width="3" height="1" fill="#a0a0a0"/><rect x="919" y="15" width="3" height="1" fill="#a0a0a0"/><rect x="919" y="17" width="3" height="1" fill="#a0a0a0"/><rect x="919" y="19" width="3" height="1" fill="#a0a0a0"/><rect x="919" y="21" width="3" height="1" fill="#a0a0a0"/>
<rect x="1176" y="0" width="1" height="25" fill="#a0a0a0"/><rect x="1177" y="0" width="1" height="25" fill="#fff"/>
<rect x="279" y="1" width="26" height="22" fill="url(#chk)"/><rect x="279" y="1" width="26" height="1" fill="#a0a0a0"/><rect x="279" y="1" width="1" height="22" fill="#a0a0a0"/><rect x="304" y="1" width="1" height="22" fill="#fff"/><rect x="279" y="22" width="26" height="1" fill="#fff"/>
<rect x="431" y="1" width="26" height="22" fill="url(#chk)"/><rect x="431" y="1" width="26" height="1" fill="#a0a0a0"/><rect x="431" y="1" width="1" height="22" fill="#a0a0a0"/><rect x="456" y="1" width="1" height="22" fill="#fff"/><rect x="431" y="22" width="26" height="1" fill="#fff"/>
<rect x="459" y="1" width="26" height="22" fill="url(#chk)"/><rect x="459" y="1" width="26" height="1" fill="#a0a0a0"/><rect x="459" y="1" width="1" height="22" fill="#a0a0a0"/><rect x="484" y="1" width="1" height="22" fill="#fff"/><rect x="459" y="22" width="26" height="1" fill="#fff"/>
<rect x="619" y="1" width="26" height="22" fill="url(#chk)"/><rect x="619" y="1" width="26" height="1" fill="#a0a0a0"/><rect x="619" y="1" width="1" height="22" fill="#a0a0a0"/><rect x="644" y="1" width="1" height="22" fill="#fff"/><rect x="619" y="22" width="26" height="1" fill="#fff"/>
<rect x="1065" y="1" width="26" height="22" fill="url(#chk)"/><rect x="1065" y="1" width="26" height="1" fill="#a0a0a0"/><rect x="1065" y="1" width="1" height="22" fill="#a0a0a0"/><rect x="1090" y="1" width="1" height="22" fill="#fff"/><rect x="1065" y="22" width="26" height="1" fill="#fff"/>
</g>
<g id="neworder"><path d="M16.5 5.5 h6.6 l3.4 3.4 v8.6 q0 1 -1 1 h-9 q-1 0 -1 -1 v-11 q0 -1 1 -1 z" fill="#fff" stroke="#7e7e7e" stroke-width="1"/><path d="M23.1 5.5 v3.4 h3.4" fill="#ececec" stroke="#7e7e7e" stroke-width="0.8"/>
<g stroke="#9a9a9a" stroke-width="1" shape-rendering="crispEdges"><line x1="17" y1="7.5" x2="20" y2="7.5" stroke="#777"/><line x1="17" y1="8.5" x2="20" y2="8.5" stroke="#777"/><line x1="17" y1="11.5" x2="24" y2="11.5"/><line x1="17" y1="13.5" x2="22" y2="13.5"/><line x1="17" y1="15.5" x2="21" y2="15.5"/></g>
<g shape-rendering="crispEdges"><rect x="23" y="11" width="4" height="12" fill="#0f9a10"/><rect x="19" y="15" width="12" height="4" fill="#0f9a10"/><rect x="24" y="12" width="2" height="10" fill="url(#gp)"/><rect x="20" y="16" width="10" height="2" fill="url(#gp2)"/></g></g>
<text x="33.9" y="16.2" font-size="11.6" fill="#000" textLength="36" lengthAdjust="spacing">新订单</text>
<g id="book"><polygon points="87.4,6.1 97,12.4 98,15 89.3,20.9 82,14.9" fill="#b9820c"/><polygon points="88.9,18.5 96.9,12.7 97.7,14.8 89.5,20.4" fill="#ece0a2"/><path d="M89 19.3 L97.2 13.6" stroke="#a08a48" stroke-width=".5" fill="none"/><polygon points="82.3,14.8 88.7,18.5 89.3,20.5 82.7,16.4" fill="url(#gold2)"/><path d="M87.5 6.5 L96.5 12.4 L88.7 18.1 L82.5 14.4 Q86.3 11.2 87.5 6.5 Z" fill="url(#gold)" stroke="#a8720a" stroke-width=".7"/><path d="M87.9 7.6 Q87 11.6 83.6 14.3" stroke="#fff6b8" stroke-width=".9" fill="none" opacity=".8"/></g>
<g id="cloud"><polygon points="112.2,5.6 119.8,5 123,7.6 123,14.4 112.2,14.4" fill="#2196f3"/><polygon points="112.2,5.8 115.8,8.2 115.8,14.4 112.2,14.4" fill="#0d8af0"/><polygon points="112.2,5.6 119.8,5 123,7.6 115.8,8.1" fill="#1a7fe8"/><rect x="115.8" y="8" width="7.2" height="6.4" fill="#3fa9f5"/><path d="M112.4 5.8 L115.8 8.1 V14.4" stroke="#e8f6ff" stroke-width=".7" fill="none"/><rect x="117" y="9.6" width="5" height="1.3" fill="#fff" opacity=".95"/><g fill="#3f5f9f" stroke="#3f5f9f" stroke-width="1.5"><circle cx="113.1" cy="17.9" r="2.5"/><circle cx="118.2" cy="16.5" r="3.2"/><circle cx="123" cy="17.8" r="2.5"/><rect x="113.1" y="17.4" width="9.9" height="3" rx=".6"/></g><g fill="url(#cl)"><circle cx="113.1" cy="17.9" r="2.5"/><circle cx="118.2" cy="16.5" r="3.2"/><circle cx="123" cy="17.8" r="2.5"/><rect x="113.1" y="17.4" width="9.9" height="3" rx=".6"/></g><rect x="110" y="13" width="16.6" height="8" fill="url(#cl2)" clip-path="url(#clc)"/></g>
<g id="signal"><circle cx="145.9" cy="13.1" r="8" fill="#f7f7f0" opacity=".7"/><path d="M145.9 5.1 A8 8 0 0 1 145.9 21.1 Z" fill="url(#sg)"/><g fill="none" stroke-width="1.1"><path d="M145.9 20.7 A7.6 7.6 0 0 1 145.9 5.5" stroke="#5f8ae0" opacity=".6"/><path d="M145.9 5.5 A7.6 7.6 0 0 1 152.6 16.6" stroke="#86a8a0" opacity=".7"/><path d="M145.9 17.9 A4.8 4.8 0 0 1 145.9 8.3" stroke="#5f8ae0" opacity=".5"/><path d="M145.9 8.3 A4.8 4.8 0 0 1 150.4 14.8" stroke="#86a8a0" opacity=".6"/></g><rect x="145.9" y="13" width="1.2" height="8" fill="#22a022"/><circle cx="145.9" cy="12.9" r="1.9" fill="#2b5fd6"/></g>
<g id="expert"><path d="M165.6 12.4 L180.8 11.4 L172.8 20.9 Z" fill="url(#yel)" stroke="#d9a514" stroke-width=".7"/><ellipse cx="172.9" cy="9.7" rx="8" ry="2.5" transform="rotate(-4 172.9 9.7)" fill="#56b0e4" stroke="#1f86b8" stroke-width=".8"/><path d="M169 9.4 C169.2 3.6 176.4 3.6 176.6 9 C174.5 10.2 171 10.3 169 9.4 Z" fill="#7cc6ee" stroke="#2a8fc2" stroke-width=".6"/><circle cx="177.5" cy="16.7" r="4.15" fill="url(#stop)"/><rect x="176" y="15.2" width="3" height="3" fill="#fff"/></g>
<text x="186.4" y="16.2" font-size="11.6" fill="#000" textLength="47.4" lengthAdjust="spacing">自动交易</text>
<g id="bars"><g fill="#4d4d4d" shape-rendering="crispEdges"><rect x="259" y="7" width="1" height="14"/><rect x="257" y="18" width="14" height="1"/><rect x="258" y="8" width="3" height="1"/><rect x="269" y="17" width="1" height="3"/></g><g fill="#17801a"><rect x="265.3" y="8.6" width="1.4" height="7.8"/><rect x="266" y="8.6" width="2.2" height="1.2"/><rect x="263.2" y="15.2" width="2.4" height="1.2"/></g></g>
<g id="candle"><g fill="#4d4d4d" shape-rendering="crispEdges"><rect x="287" y="7" width="1" height="14"/><rect x="285" y="18" width="14" height="1"/><rect x="286" y="8" width="3" height="1"/><rect x="297" y="17" width="1" height="3"/></g><rect x="293" y="5" width="1" height="12" fill="#0c8a0c" shape-rendering="crispEdges"/><rect x="291.5" y="7.5" width="4" height="7.5" fill="#3fe03f" stroke="#0c8a0c" stroke-width="1"/></g>
<g id="linechart"><g fill="#4d4d4d" shape-rendering="crispEdges"><rect x="315" y="7" width="1" height="14"/><rect x="313" y="18" width="14" height="1"/><rect x="314" y="8" width="3" height="1"/><rect x="325" y="17" width="1" height="3"/></g><path d="M314.5 15.6 C317 14.6 318 10.2 320 10.4 C322 10.6 323 13.6 325.6 14.2" fill="none" stroke="#1c8c1c" stroke-width="1.2"/></g>
<g><line x1="355.4" y1="15.8" x2="359.6" y2="20.3" stroke="#9a7a14" stroke-width="3.6" stroke-linecap="round"/><line x1="355.4" y1="15.8" x2="359.6" y2="20.3" stroke="#ecc94a" stroke-width="2.2" stroke-linecap="round"/><circle cx="351" cy="11.5" r="5.4" fill="url(#lens)" stroke="#3b82cc" stroke-width="1.3"/><rect x="347.8" y="10.6" width="6.4" height="1.9" fill="#3f86b4"/><rect x="350.05" y="8.3" width="1.9" height="6.4" fill="#3f86b4"/></g>
<g><line x1="383.4" y1="15.8" x2="387.6" y2="20.3" stroke="#9a7a14" stroke-width="3.6" stroke-linecap="round"/><line x1="383.4" y1="15.8" x2="387.6" y2="20.3" stroke="#ecc94a" stroke-width="2.2" stroke-linecap="round"/><circle cx="379" cy="11.5" r="5.4" fill="url(#lens)" stroke="#3b82cc" stroke-width="1.3"/><rect x="375.8" y="10.6" width="6.4" height="1.9" fill="#3f86b4"/></g>
<g id="tile">
<rect x="401" y="5" width="8" height="8" rx=".8" fill="#43a614"/><rect x="401" y="5" width="8" height="2.4" rx=".8" fill="#2f8f0a"/>
<rect x="402" y="6" width="1" height="1" fill="#fff" opacity=".8"/>
<rect x="402" y="8" width="6" height="4" fill="#fff"/><rect x="403" y="9.2" width="4" height=".8" fill="#43a614" opacity=".5"/><rect x="403" y="11" width="4" height="1" fill="#43a614" opacity=".85"/>
<rect x="409" y="5" width="8" height="8" rx=".8" fill="#2f63dc"/><rect x="409" y="5" width="8" height="2.4" rx=".8" fill="#0f3ab6"/>
<rect x="410" y="6" width="1" height="1" fill="#fff" opacity=".8"/>
<rect x="410" y="8" width="6" height="4" fill="#fff"/><rect x="411" y="9.2" width="4" height=".8" fill="#2f63dc" opacity=".5"/><rect x="411" y="11" width="4" height="1" fill="#2f63dc" opacity=".85"/>
<rect x="401" y="13" width="8" height="8" rx=".8" fill="#2f63dc"/><rect x="401" y="13" width="8" height="2.4" rx=".8" fill="#0f3ab6"/>
<rect x="402" y="14" width="1" height="1" fill="#fff" opacity=".8"/>
<rect x="402" y="16" width="6" height="4" fill="#fff"/><rect x="403" y="17.2" width="4" height=".8" fill="#2f63dc" opacity=".5"/><rect x="403" y="19" width="4" height="1" fill="#2f63dc" opacity=".85"/>
<rect x="409" y="13" width="8" height="8" rx=".8" fill="#43a614"/><rect x="409" y="13" width="8" height="2.4" rx=".8" fill="#2f8f0a"/>
<rect x="410" y="14" width="1" height="1" fill="#fff" opacity=".8"/>
<rect x="410" y="16" width="6" height="4" fill="#fff"/><rect x="411" y="17.2" width="4" height=".8" fill="#43a614" opacity=".5"/><rect x="411" y="19" width="4" height="1" fill="#43a614" opacity=".85"/>
</g>
<g id="autoscroll"><g fill="#4d4d4d" shape-rendering="crispEdges"><rect x="439" y="7" width="1" height="14"/><rect x="437" y="18" width="14" height="1"/><rect x="438" y="8" width="3" height="1"/><rect x="449" y="17" width="1" height="3"/></g><polygon points="444.3,9 444.3,16 448.6,12.5" fill="#8aea8a" stroke="#1a9a1a" stroke-width="1"/></g>
<g id="shift"><g fill="#4d4d4d" shape-rendering="crispEdges"><rect x="467" y="7" width="1" height="14"/><rect x="465" y="18" width="14" height="1"/><rect x="466" y="8" width="3" height="1"/><rect x="477" y="17" width="1" height="3"/></g><rect x="473" y="7" width="1" height="10" fill="#2a78b0" shape-rendering="crispEdges"/><path d="M479 12.4 H475 M477.2 10.2 L474.8 12.4 L477.2 14.6" fill="none" stroke="#d2480e" stroke-width="1.3"/></g>
<g id="indic"><path d="M499.5 5.5 h6.6 l3.4 3.4 v8.6 q0 1 -1 1 h-9 q-1 0 -1 -1 v-11 q0 -1 1 -1 z" fill="#fff" stroke="#7e7e7e" stroke-width="1"/><path d="M506.1 5.5 v3.4 h3.4" fill="#ececec" stroke="#7e7e7e" stroke-width="0.8"/><text x="500" y="15" font-size="9" font-style="italic" fill="#5a5a3a" font-family="'Liberation Serif',serif">f</text><g shape-rendering="crispEdges"><rect x="506" y="11" width="4" height="12" fill="#0f9a10"/><rect x="502" y="15" width="12" height="4" fill="#0f9a10"/><rect x="507" y="12" width="2" height="10" fill="url(#gp)"/><rect x="503" y="16" width="10" height="2" fill="url(#gp2)"/></g></g>
<polygon points="519.8,12 525.4,12 522.5999999999999,15.2" fill="#000"/>
<g id="clock"><circle cx="543.9" cy="12.8" r="6.6" fill="#fdfdfd" stroke="url(#blu2)" stroke-width="2.3"/><circle cx="543.9" cy="12.8" r="7.7" fill="none" stroke="#1458b8" stroke-width=".5"/><path d="M543.8 8.6 V12.9 H546.8" fill="none" stroke="#333" stroke-width="1.1"/><g fill="#8aa"><rect x="543.4" y="6.6" width=".8" height="1"/><rect x="543.4" y="17.8" width=".8" height="1"/><rect x="537.8" y="12.3" width="1" height=".8"/><rect x="548.8" y="12.3" width="1" height=".8"/></g></g>
<polygon points="558.6,12 564.2,12 561.4,15.2" fill="#000"/>
<g id="tmpl"><rect x="575.5" y="6.5" width="15" height="13" fill="#fff" stroke="#3c7acc" stroke-width="1"/><rect x="576" y="7" width="14" height="2" fill="#5aa0ea"/><rect x="576" y="13" width="14" height="1" fill="#9cc0ec"/><path d="M577.5 11.8 l2.2 -.2 l1.8 -1.4 l2 1 l2.2 -.2 l2.2 -1.2" fill="none" stroke="#b02a10" stroke-width="1.2"/><path d="M577.5 17 l2.4 -.6 l1.8 .6 l2.6 -2 l2 1.8 l1.4 .4" fill="none" stroke="#1c9a2c" stroke-width="1.2"/></g>
<polygon points="597.8,12 603.4,12 600.5999999999999,15.2" fill="#000"/>
<polygon points="627,5.8 627,17.4 629.7,15 632,20.6 634.3,19.6 632,14.3 635.4,14" fill="#4a4a4a"/>
<g fill="#4d4d4d" shape-rendering="crispEdges"><rect x="652" y="13" width="7" height="1"/><rect x="660" y="13" width="7" height="1"/><rect x="659" y="6" width="1" height="7"/><rect x="659" y="14" width="1" height="7"/></g>
<g fill="#4d4d4d" shape-rendering="crispEdges"><rect x="693" y="7" width="1" height="13"/><rect x="716" y="13" width="12" height="1"/></g>
<line x1="743.8" y1="20" x2="756.2" y2="7.6" stroke="#4d4d4d" stroke-width="1.1"/>
<g id="channel" stroke="#4d4d4d" stroke-width="1" fill="none"><path d="M770 14.6 L778.5 7 M772.2 19.4 L783.5 9.4 M775.4 20 L784.6 11.8"/><path d="M773 11.5 l1.2 7 M776 9 l1.2 8 M779 7.6 l1.4 7.4 M782 5.2 l1 7" stroke-width=".9"/></g>
<text x="780.4" y="22" font-size="6.6" font-weight="bold" fill="#333">E</text>
<g fill="none" stroke="#4d4d4d" stroke-width="1" stroke-dasharray="1 1" shape-rendering="crispEdges"><path d="M799 6.5 H813 M799 9.5 H813 M799 13.5 H813 M799 17.5 H808"/></g>
<text x="808.8" y="22" font-size="6.6" font-weight="bold" fill="#333">F</text>
<text x="829.8" y="18" font-size="12.8" fill="#4a4a4a" textLength="8" lengthAdjust="spacingAndGlyphs">A</text>
<rect x="856.5" y="7.5" width="11" height="12" fill="none" stroke="#4d4d4d" stroke-width="1" stroke-dasharray="1 1" shape-rendering="crispEdges"/>
<rect x="855" y="6" width="2" height="2" fill="#4d4d4d"/>
<text x="857.6" y="17.7" font-size="10.6" fill="#4a4a4a" stroke="#4a4a4a" stroke-width=".4" textLength="8.4" lengthAdjust="spacingAndGlyphs">T</text>
<g fill="#4a4a4a"><polygon points="886.6,7 890,10 886.6,11.6 883.2,10"/><polygon points="893.8,15.4 897.2,17.2 893.8,20.2 890.4,17.2"/><path d="M885.4 13.4 L888 16 L893.4 10.4" fill="none" stroke="#4a4a4a" stroke-width="1.2"/></g>
<polygon points="903.7,12 909.3000000000001,12 906.5,15.2" fill="#000"/>
<g font-size="10.2" fill="#333" text-anchor="middle">
<text x="937" y="17" textLength="13" lengthAdjust="spacingAndGlyphs">M1</text>
<text x="965" y="17" textLength="13" lengthAdjust="spacingAndGlyphs">M5</text>
<text x="993.5" y="17" textLength="18.4" lengthAdjust="spacingAndGlyphs">M15</text>
<text x="1021.5" y="17" textLength="18.4" lengthAdjust="spacingAndGlyphs">M30</text>
<text x="1049.6" y="17" textLength="12.2" lengthAdjust="spacingAndGlyphs">H1</text>
<text x="1077" y="17" textLength="13" lengthAdjust="spacingAndGlyphs">H4</text>
<text x="1105.4" y="17" textLength="12.2" lengthAdjust="spacingAndGlyphs">D1</text>
<text x="1134.2" y="17" textLength="14.4" lengthAdjust="spacingAndGlyphs">W1</text>
<text x="1161.2" y="17" textLength="15.2" lengthAdjust="spacingAndGlyphs">MN</text>
</g>
<g id="search"><line x1="1643.4" y1="13.6" x2="1639.4" y2="17.8" stroke="#1f5fd0" stroke-width="2.6" stroke-linecap="round"/><circle cx="1646.8" cy="10.4" r="3.9" fill="#f4f4fa" stroke="#2a64d6" stroke-width="1.3"/></g>
<g id="chat"><path d="M1663.2 15 a5.2 4.3 0 1 1 5.6 4.3 l-2.4 2.4 l.2 -2.5 a5.2 4.3 0 0 1 -3.4 -4.2 z" fill="#e8e8ee" stroke="#b4b4b8" stroke-width=".8"/><circle cx="1677.5" cy="10.3" r="8.3" fill="url(#redb)"/><text x="1677.2" y="15.1" font-size="14" fill="#fff" stroke="#fff" stroke-width=".2" text-anchor="middle" font-family="'Liberation Serif',serif">1</text></g>
</svg></div>
</body></html>
